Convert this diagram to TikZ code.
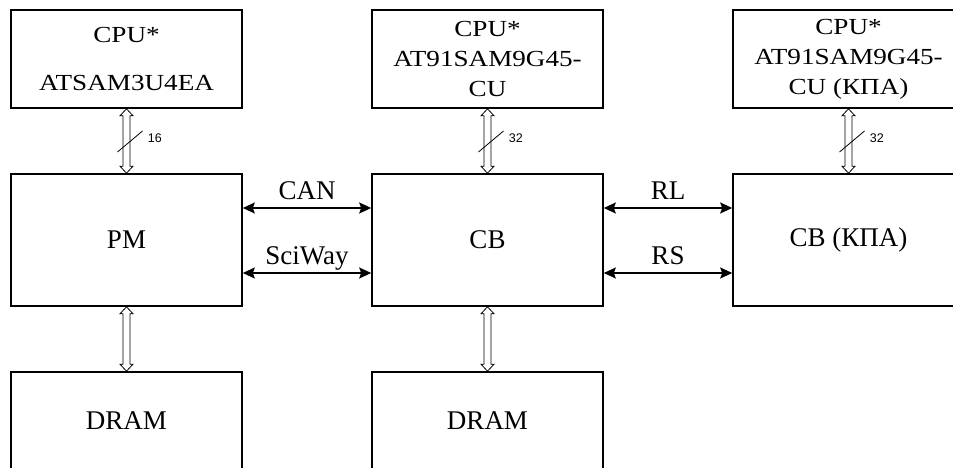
\documentclass[tikz,border=0pt]{standalone}
\usepackage{fontspec}
\setmainfont{Liberation Serif}
\newfontfamily\widefont[FakeStretch=1.18]{Liberation Serif}
\newfontfamily\labelfont{Liberation Sans}
\usetikzlibrary{arrows.meta,calc,positioning}

\tikzset{
  block/.style={draw,line width=1.6pt,minimum width=231pt,minimum height=132pt,
    inner sep=0pt,font=\fontsize{27}{31}\selectfont},
  cpubox/.style={block,minimum height=98pt,align=center,
    font=\widefont\fontsize{23}{30}\selectfont},
  link/.style={line width=1.6pt,{Stealth[length=12pt,width=11pt,inset=2pt]}-{Stealth[length=12pt,width=11pt,inset=2pt]}},
  linklabel/.style={above=8pt,inner sep=0pt,text depth=0pt,font=\fontsize{27}{31}\selectfont},
  bus/.style={draw,line width=0.8pt,fill=white},
  width/.style={font=\labelfont\fontsize{12.5}{14}\selectfont,anchor=north west,
    inner sep=2pt,xshift=3pt}
}

% hollow bus arrow between two stacked nodes
\newcommand{\busarrow}[2]{%
  \draw[bus] (#1.south) -- ++(-6.5,-7) -- ++(3,0) -- ($(#2.north)+(-3.5,7)$)
    -- ++(-3,0) -- (#2.north) -- ++(6.5,7) -- ++(-3,0)
    -- ($(#1.south)+(3.5,-7)$) -- ++(3,0) -- cycle;}
% bus width mark
\newcommand{\buswidth}[3]{%
  \draw[line width=0.8pt] ($(#1.south)!0.5!(#2.north)+(-9,-11)$) -- ++(25,21)
    node[width] {#3};}

\begin{document}
\begin{tikzpicture}[x=1pt,y=1pt]
  \useasboundingbox (0,0) rectangle (953,468);
  \clip (0,0) rectangle (953,468);
  % Middle row
  \node[block] (pm) at (126.5,228) {PM};
  \node[block,right=128.4pt of pm] (cb) {CB};
  \node[block,right=128.4pt of cb] (cbk) {CB (КПА)};
  % Processors
  \node[cpubox,above=64.4pt of pm] (cpua) {CPU*\\[18pt]ATSAM3U4EA};
  \node[cpubox,above=64.4pt of cb] (cpub) {CPU*\\AT91SAM9G45-\\CU};
  \node[cpubox,above=64.4pt of cbk] (cpuc) {CPU*\\AT91SAM9G45-\\CU (КПА)};
  % Memory
  \node[block,minimum height=98pt,below=64.4pt of pm] (drama) {DRAM};
  \node[block,minimum height=98pt,below=64.4pt of cb] (dramb) {DRAM};
  % Buses
  \busarrow{cpua}{pm}
  \busarrow{cpub}{cb}
  \busarrow{cpuc}{cbk}
  \busarrow{pm}{drama}
  \busarrow{cb}{dramb}
  \buswidth{cpua}{pm}{16}
  \buswidth{cpub}{cb}{32}
  \buswidth{cpuc}{cbk}{32}
  % Links
  \draw[link] ([yshift=32pt]pm.east) -- ([yshift=32pt]cb.west)
    node[midway,linklabel] {CAN};
  \draw[link] ([yshift=-33pt]pm.east) -- ([yshift=-33pt]cb.west)
    node[midway,linklabel] {SciWay};
  \draw[link] ([yshift=32pt]cb.east) -- ([yshift=32pt]cbk.west)
    node[midway,linklabel] {RL};
  \draw[link] ([yshift=-33pt]cb.east) -- ([yshift=-33pt]cbk.west)
    node[midway,linklabel] {RS};
\end{tikzpicture}
\end{document}
